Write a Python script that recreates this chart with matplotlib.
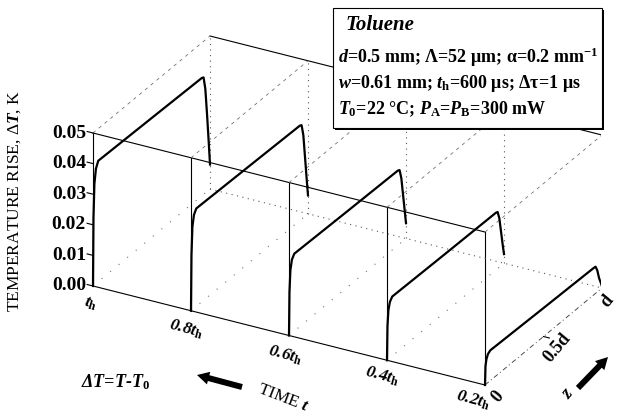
import numpy as np
import matplotlib
matplotlib.use('Agg')
import matplotlib.pyplot as plt
from matplotlib.patches import FancyArrow, Rectangle
from mpl_toolkits.mplot3d import proj3d

plt.rcParams['font.family'] = ['Liberation Serif', 'DejaVu Serif']
plt.rcParams['mathtext.fontset'] = 'custom'
plt.rcParams['mathtext.rm'] = 'Liberation Serif:bold'
plt.rcParams['mathtext.it'] = 'Liberation Serif:italic:bold'
plt.rcParams['mathtext.bf'] = 'Liberation Serif:bold'

# depth across the cell, z/d
z_pos = [0, 0.004, 0.012, 0.025, 0.045, 0.5, 0.93, 0.945, 0.96, 0.975, 0.99, 1.0]

# time slices t/t_h and the temperature rise profiles dT(z), K
t_slices = [1.0, 0.8, 0.6, 0.4, 0.2]
t_labels = ['$t_\\mathrm{h}$', '0.8$t_\\mathrm{h}$', '0.6$t_\\mathrm{h}$',
            '0.4$t_\\mathrm{h}$', '0.2$t_\\mathrm{h}$']
dT_10 = [0, 0.022, 0.033, 0.0375, 0.0395, 0.0390, 0.0385, 0.0382, 0.034, 0.025, 0.015, 0.008]
dT_08 = [0, 0.018, 0.027, 0.0305, 0.0320, 0.0315, 0.0310, 0.0307, 0.027, 0.019, 0.011, 0.006]
dT_06 = [0, 0.014, 0.021, 0.0240, 0.0253, 0.0248, 0.0244, 0.0241, 0.021, 0.015, 0.009, 0.005]
dT_04 = [0, 0.011, 0.016, 0.0183, 0.0194, 0.0190, 0.0187, 0.0185, 0.016, 0.011, 0.006, 0.003]
dT_02 = [0, 0.006, 0.008, 0.0093, 0.0099, 0.0093, 0.0088, 0.0087, 0.007, 0.004, 0.002, 0.0005]
dT_slices = [dT_10, dT_08, dT_06, dT_04, dT_02]

T_ticks = [0.00, 0.01, 0.02, 0.03, 0.04, 0.05]
z_ticks = [0, 0.5, 1.0]
z_labels = ['0', '0.5d', 'd']

# label offsets from their tick points, pixels
t_label_off = [(-2, 18), (-5, 18), (-4, 20), (-5, 16), (-12, 15)]
z_label_off = [(13, 12), (14, 11), (5, 13)]

W, H = 617, 415
fig = plt.figure(figsize=(W / 100, H / 100), dpi=100)
side = 600
ax = fig.add_axes([(310 - side / 2) / W, (208 - side / 2) / H, side / W, side / H],
                  projection='3d')
ax.set_proj_type('ortho')
ax.set_xlim(0, 1)
ax.set_ylim(t_slices[-1], t_slices[0])
ax.set_zlim(T_ticks[0], T_ticks[-1])
ax.set_box_aspect((242.2, 447.9, 172.1))
ax.view_init(elev=27.23, azim=-151.1)
ax.set_axis_off()

t0, t1 = t_slices[0], t_slices[-1]
Tlo, Thi = T_ticks[0], T_ticks[-1]
thin = dict(color='k', lw=0.8)
dotted = dict(color='0.35', lw=0.8, ls=(0, (1, 4)))
sparse = dict(color='0.45', lw=0.8, ls=(0, (1, 9)))
dashed = dict(color='0.45', lw=0.6, ls=(0, (4, 5)))

# front wall z = 0
ax.plot([0, 0], [t0, t1], [Tlo, Tlo], **thin)
ax.plot([0, 0], [t0, t1], [Thi, Thi], **thin)
for t in t_slices:
    ax.plot([0, 0], [t, t], [Tlo, Thi], **thin)

# back wall z = d
ax.plot([1, 1], [t0, t1], [Thi, Thi], **thin)
ax.plot([1, 1], [t1, t1], [Tlo, Thi], **thin)
ax.plot([1, 1], [t0, t1], [Tlo, Tlo], **dotted)
for t in t_slices[:-1]:
    ax.plot([1, 1], [t, t], [Tlo, Thi], **dotted)

# depth lines at each time slice
for t in t_slices:
    ax.plot([0, 1], [t, t], [Thi, Thi], **dashed)
for t in t_slices[:-1]:
    ax.plot([0, 1], [t, t], [Tlo, Tlo], **sparse)
ax.plot([0, 1], [t1, t1], [Tlo, Tlo], color='0.3', lw=0.7, ls=(0, (5, 3, 1, 3)))
ax.plot([0.5, 0.5], [t1, t1 - 0.012], [Tlo, Tlo], **thin)

# temperature profiles
for t, dT in zip(t_slices, dT_slices):
    ax.plot(z_pos, [t] * len(z_pos), dT, color='k', lw=1.6)

# vertical axis ticks
for v in T_ticks:
    ax.plot([0, 0], [t0, t0 + 0.012], [v, v], **thin)


def to_display(x, y, z):
    xs, ys, _ = proj3d.proj_transform(np.array([x]), np.array([y]), np.array([z]),
                                      ax.get_proj())
    return ax.transData.transform((xs[0], ys[0]))


# place the box so its corners sit where they should on the page
fig.canvas.draw()
corners = [(0, t0, Tlo), (0, t1, Tlo), (1, t1, Tlo), (0, t0, Thi), (1, t0, Thi)]
targets = np.array([(93, 286), (485, 385), (602, 288), (93, 133), (210, 36)], float)
targets[:, 1] = H - targets[:, 1]
P = np.array([to_display(*c) for c in corners])
bb = ax.get_position()
c = np.array([(bb.x0 + bb.x1) / 2 * W, (bb.y0 + bb.y1) / 2 * H])
pm, qm = P.mean(0), targets.mean(0)
s = ((P - pm) * (targets - qm)).sum() / ((P - pm) ** 2).sum()
nc = qm - s * (pm - c)
nw = s * bb.width * W
ax.set_position([(nc[0] - nw / 2) / W, (nc[1] - nw / 2) / H, nw / W, nw / H])
fig.canvas.draw()


def to_page(x, y, z):
    px, py = to_display(x, y, z)
    return px, H - py


# page-level annotations in pixel units
ax2 = fig.add_axes([0, 0, 1, 1])
ax2.set_xlim(0, W)
ax2.set_ylim(H, 0)
ax2.axis('off')
ax2.patch.set_alpha(0)

for v in T_ticks:
    px, py = to_page(0, t0, v)
    ax2.text(px - 7, py, f'{v:.2f}', ha='right', va='center', fontsize=14,
             fontweight='bold')

for t, lab, (dx, dy) in zip(t_slices, t_labels, t_label_off):
    px, py = to_page(0, t, Tlo)
    ax2.text(px + dx, py + dy, lab, ha='center', va='center', rotation=-15,
             fontsize=12.5, fontweight='bold', fontstyle='italic')

for zv, lab, (dx, dy) in zip(z_ticks, z_labels, z_label_off):
    px, py = to_page(zv, t1, Tlo)
    ax2.text(px + dx, py + dy, lab, ha='center', va='center', rotation=50,
             fontsize=13, fontweight='bold')

ax2.add_patch(Rectangle((335, 10), 269, 120, color='k', lw=0))
ax2.add_patch(Rectangle((333, 8), 269, 120, facecolor='white', edgecolor='k', lw=0.8))
ax2.text(345, 25, 'Toluene', fontsize=15, fontweight='bold', fontstyle='italic', va='center')
ax2.text(338, 57, '$d$=0.5 mm; Λ=52 μm; α=0.2 mm$^{-1}$', fontsize=13,
         fontweight='bold', va='center')
ax2.text(338, 83, '$w$=0.61 mm; $t_\\mathrm{h}$=600 μs; Δτ=1 μs', fontsize=13,
         fontweight='bold', va='center')
ax2.text(338, 109, '$T_0$=22 °C; $P_\\mathrm{A}$=$P_\\mathrm{B}$=300 mW', fontsize=13,
         fontweight='bold', va='center')

ax2.text(15, 201, 'TEMPERATURE RISE, Δ$T$, K', rotation=90, ha='center', va='center',
         fontsize=12.5)
ax2.text(115, 382, 'ΔT=T-$T_0$', ha='center', va='center', fontsize=13,
         fontweight='bold', fontstyle='italic')
ax2.text(283, 398, 'TIME $t$', rotation=-21, ha='center', va='center', fontsize=12.5)
ax2.text(568, 393, '$z$', rotation=50, ha='center', va='center', fontsize=13)

ax2.add_patch(FancyArrow(242, 387, -45, -12, width=6, head_width=13, head_length=12,
                         length_includes_head=True, color='k', lw=0))
ax2.add_patch(FancyArrow(578, 388, 30, -31, width=6, head_width=13, head_length=12,
                         length_includes_head=True, color='k', lw=0))

fig.savefig('out.png', dpi=100)
